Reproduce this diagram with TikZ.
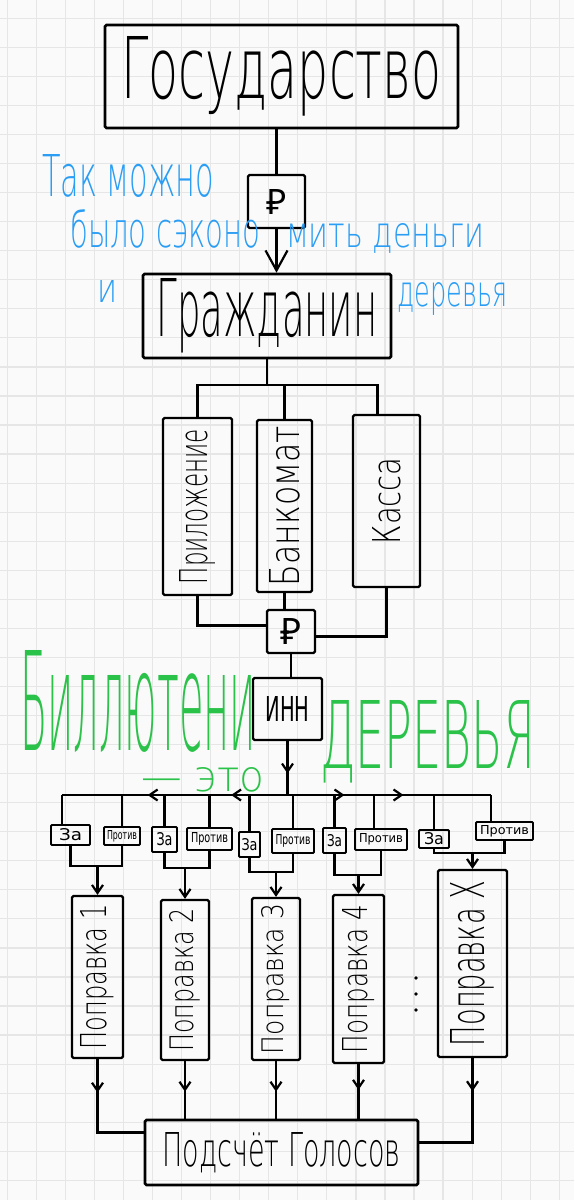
\documentclass[tikz,border=0pt]{standalone}
\usepackage{fontspec}
\usepackage{graphicx}
\usetikzlibrary{arrows.meta,decorations.markings}

\newfontfamily\hand{DejaVuSans-ExtraLight}[Extension=.ttf]
\newfontfamily\handreg{DejaVu Sans}
\newfontfamily\rublefont{Noto Sans}

\definecolor{paper}{HTML}{FAFAFA}
\definecolor{gridgray}{HTML}{E6E6E6}
\definecolor{noteblue}{HTML}{2A9DF4}
\definecolor{treegreen}{HTML}{2BC24A}

% text squeezed into the size it has in the sketch
\newcommand{\hw}[3]{\resizebox{#1}{#2}{\hand #3}}
\newcommand{\hwr}[3]{\resizebox{#1}{#2}{\handreg #3}}

\begin{document}
\begin{tikzpicture}[x=1pt, y=-1pt,
        barb/.tip={Straight Barb[length=8pt,width=11pt]},
        bigbarb/.tip={Straight Barb[length=20pt,width=22pt]},
        bigbox/.style={
            % The shape
            rectangle, rounded corners=1.5pt,
            % The border
            line width=2.6pt,
            draw = black,
            % The text
            inner sep=0pt
        },
        tallbox/.style={
            % The shape
            rectangle, rounded corners=1.5pt,
            % The border
            line width=2.3pt,
            draw = black,
            % The text
            inner sep=0pt
        },
        vote/.style={
            % The shape
            rectangle, rounded corners=1pt,
            % The border
            line width=1.9pt,
            draw = black,
            % The text
            inner sep=0pt
        },
        note/.style={
            % The color
            text = noteblue,
            inner sep=0pt
        },
        loud/.style={
            % The color
            text = treegreen,
            inner sep=0pt
        },
        link/.style={
            line width=2.2pt,
            draw = black
        },
        midarrow/.style={
            postaction={decorate},
            decoration={markings, mark=at position #1 with {\arrow{barb}}}
        },
        twoarrows/.style 2 args={
            postaction={decorate},
            decoration={markings,
                mark=at position #1 with {\arrow{barb}},
                mark=at position #2 with {\arrow{barb}}}
        },
        gridline/.style={
            line width=1.2pt,
            draw = gridgray
        }
    ]
        \useasboundingbox (0,0) rectangle (574,1200);
        \fill[paper] (0,0) rectangle (574,1200);
        \foreach \i in {0,...,19}
            \draw[gridline] ({7.3+29.05*\i},0) -- ({7.3+29.05*\i},1200);
        \foreach \j in {0,...,40}
            \draw[gridline] (0,{18.3+29.05*\j}) -- (574,{18.3+29.05*\j});

        % money goes down to the citizen
        \node (state) [bigbox, minimum width=353pt, minimum height=103pt] at (281.5,76.5)
            {\hw{320pt}{62pt}{Государство}};
        \node (rub1) [tallbox, minimum width=57pt, minimum height=53pt] at (276.5,201.5)
            {\resizebox{!}{25pt}{\rublefont ₽}};
        \node (citizen) [bigbox, minimum width=248pt, minimum height=84pt] at (267,316)
            {\hw{221pt}{58pt}{Гражданин}};
        \path[link] (rub1.north |- state.south) edge (rub1.north);
        \draw[link, -{bigbarb}] (rub1.south) -- (rub1.south |- citizen.north);

        % blue remark
        \node (noteA) [note, anchor=base west] at (42,196) {\hw{172pt}{42pt}{Так можно}};
        \node (noteB) [note, anchor=base west] at (70,247) {\hw{190pt}{38pt}{было сэконо}};
        \node (noteC) [note, anchor=base west] at (286,247) {\hw{198pt}{24pt}{мить деньги}};
        \node (noteD) [note, anchor=base west] at (97,302) {\hw{20pt}{22pt}{и}};
        \node (noteE) [note, anchor=base west] at (397,306) {\hw{110pt}{24pt}{деревья}};

        % three ways to get the money
        \coordinate (fork) at (citizen.south |- 0,385);
        \node (app) [tallbox, minimum width=69pt, minimum height=177pt] at (197.5,506.5)
            {\rotatebox{90}{\hw{155pt}{28pt}{Приложение}}};
        \node (atm) [tallbox, minimum width=55pt, minimum height=172pt] at (284.5,506)
            {\rotatebox{90}{\hw{160pt}{30pt}{Банкомат}}};
        \node (cash) [tallbox, minimum width=67pt, minimum height=172pt] at (386.5,501)
            {\rotatebox{90}{\hw{87pt}{28pt}{Касса}}};
        \draw[link] (citizen.south) -- (fork);
        \draw[link] (app.north) |- (fork) -| ([xshift=-9pt]cash.north);
        \draw[link] (atm.north) -- (atm.north |- fork);

        \node (rub2) [tallbox, minimum width=48pt, minimum height=43pt] at (291,631.5)
            {\resizebox{!}{26pt}{\rublefont ₽}};
        \draw[link] (app.south) |- ([yshift=6pt]rub2.west);
        \draw[link] (atm.south) -- (atm.south |- rub2.north);
        \draw[link] (cash.south) |- ([yshift=-5pt]rub2.east);

        \node (inn) [tallbox, minimum width=69pt, minimum height=62pt] at (287.5,709)
            {\hwr{44pt}{25pt}{ИНН}};
        \draw[link] (rub2.south) -- (rub2.south |- inn.north);

        % green remark
        \node (loudA) [loud, anchor=base west] at (20,750) {\hw{236pt}{100pt}{Биллютени}};
        \node (loudB) [loud, anchor=base west] at (141,791) {\hw{123pt}{24pt}{— это}};
        \node (loudC) [loud, anchor=base west] at (320,768) {\hw{215pt}{68pt}{ДЕРЕВЬЯ}};

        % the ballot
        \coordinate (bar) at (inn.south |- 0,795);
        \coordinate (barL) at (62,795);
        \coordinate (barR) at (491,795);
        \draw[link, midarrow=0.6] (inn.south) -- (bar);
        \draw[link, twoarrows={0.25}{0.62}] (bar) -- (barL);
        \draw[link, twoarrows={0.28}{0.57}] (bar) -- (barR);

        \node (za1) [vote, minimum width=39pt, minimum height=20pt] at (70.5,835) {\hwr{23pt}{12pt}{За}};
        \node (pr1) [vote, minimum width=36pt, minimum height=18pt] at (122,836) {\hwr{30pt}{9pt}{Против}};
        \node (za2) [vote, minimum width=25pt, minimum height=25pt] at (164.5,839.5) {\hwr{16pt}{13pt}{За}};
        \node (pr2) [vote, minimum width=45pt, minimum height=22pt] at (209.5,839) {\hwr{37pt}{10pt}{Против}};
        \node (za3) [vote, minimum width=21pt, minimum height=25pt] at (249.5,844.5) {\hwr{16pt}{12pt}{За}};
        \node (pr3) [vote, minimum width=42pt, minimum height=24pt] at (293,841) {\hwr{35pt}{10pt}{Против}};
        \node (za4) [vote, minimum width=23pt, minimum height=25pt] at (334.5,840.5) {\hwr{15pt}{12pt}{За}};
        \node (pr4) [vote, minimum width=52pt, minimum height=21pt] at (381,839.5) {\hwr{44pt}{9pt}{Против}};
        \node (za5) [vote, minimum width=30pt, minimum height=18pt] at (434,839) {\hwr{20pt}{12pt}{За}};
        \node (pr5) [vote, minimum width=57pt, minimum height=18pt] at (504.5,831) {\hwr{49pt}{9pt}{Против}};

        \draw[link] (barL) -- (barL |- za1.north);
        \draw[link] (pr1.north |- bar) -- (pr1.north);
        \draw[link] (za2.north |- bar) -- (za2.north);
        \draw[link] (pr2.north |- bar) -- (pr2.north);
        \draw[link] (za3.north |- bar) -- (za3.north);
        \draw[link] (pr3.north |- bar) -- (pr3.north);
        \draw[link] (za4.north |- bar) -- (za4.north);
        \draw[link] ([xshift=-7pt]pr4.north |- bar) -- ([xshift=-7pt]pr4.north);
        \draw[link] (za5.north |- bar) -- (za5.north);
        \draw[link] (barR) -- (barR |- pr5.north);

        % one column per amendment
        \node (p1) [tallbox, minimum width=51pt, minimum height=162pt] at (97.5,977)
            {\rotatebox{90}{\hw{145pt}{26pt}{Поправка 1}}};
        \node (p2) [tallbox, minimum width=48pt, minimum height=160pt] at (185,980)
            {\rotatebox{90}{\hw{143pt}{24pt}{Поправка 2}}};
        \node (p3) [tallbox, minimum width=48pt, minimum height=162pt] at (276,979)
            {\rotatebox{90}{\hw{150pt}{22pt}{Поправка 3}}};
        \node (p4) [tallbox, minimum width=51pt, minimum height=168pt] at (358.5,979)
            {\rotatebox{90}{\hw{148pt}{25pt}{Поправка 4}}};
        \node (px) [tallbox, minimum width=69pt, minimum height=187pt] at (472.5,963.5)
            {\rotatebox{90}{\hw{165pt}{34pt}{Поправка X}}};
        \foreach \y in {978,994,1010}
            \fill (416,\y) circle (1.8pt);

        \coordinate (m1) at (p1.north |- 0,866);
        \coordinate (m2) at (p2.north |- 0,868);
        \coordinate (m3) at (p3.north |- 0,872);
        \coordinate (m4) at (p4.north |- 0,875);
        \coordinate (m5) at (px.north |- 0,853);
        \draw[link] (za1.south) |- (m1) -| (pr1.south);
        \draw[link, -{barb}] (m1) -- (p1.north);
        \draw[link] (za2.south) |- (m2) -| (pr2.south);
        \draw[link, -{barb}] (m2) -- (p2.north);
        \draw[link] (za3.south) |- (m3) -| (pr3.south);
        \draw[link, -{barb}] (m3) -- (p3.north);
        \draw[link] (za4.south) |- (m4) -| (pr4.south);
        \draw[link, -{barb}] (m4) -- (p4.north);
        \draw[link] (za5.south) |- (m5) -| (pr5.south);
        \draw[link, -{barb}] (m5) -- (px.north);

        % all columns are counted
        \node (count) [bigbox, minimum width=273pt, minimum height=65pt] at (281.5,1152.5)
            {\hw{238pt}{34pt}{Подсчёт Голосов}};
        \draw[link, midarrow=0.28] (p1.south) |- ([yshift=20pt]count.west);
        \draw[link, midarrow=0.53] (p2.south) -- (p2.south |- count.north);
        \draw[link, midarrow=0.53] (p3.south) -- (p3.south |- count.north);
        \draw[link, midarrow=0.47] (p4.south) -- (p4.south |- count.north);
        \draw[link, midarrow=0.24] (px.south) |- ([yshift=10pt]count.east);
    \end{tikzpicture}
\end{document}
